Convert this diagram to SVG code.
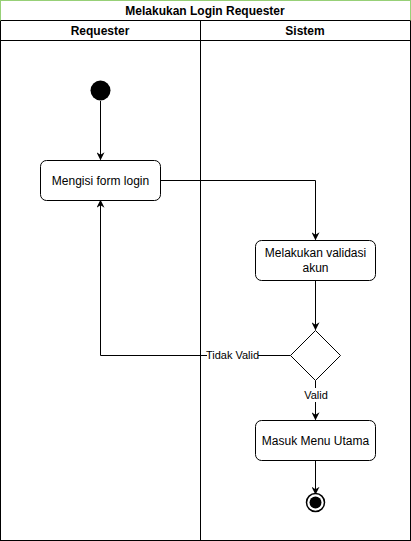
<svg xmlns="http://www.w3.org/2000/svg" width="411" height="541" viewBox="0 0 411 541">
<style>
.t{font-family:"Liberation Sans",Arial,sans-serif;font-size:12px;fill:#000;text-anchor:middle}
.s{font-size:11px}
.b{font-weight:bold}
.box{fill:#fff;stroke:#000;stroke-width:1}
.ln{fill:none;stroke:#000;stroke-width:1}
</style>
<defs>
<marker id="ar" viewBox="0 0 10 10" refX="9" refY="5" markerWidth="8" markerHeight="8" markerUnits="userSpaceOnUse" orient="auto">
<path d="M0,0 L10,5 L0,10 L3,5 Z" fill="#000"/>
</marker>
</defs>
<rect width="411" height="541" fill="#fff"/>
<g id="pool">
<rect x="0.5" y="0.5" width="410" height="540" fill="#fff" stroke="#000"/>
<rect x="0.5" y="0.5" width="410" height="20" fill="#fff" stroke="#97D077"/>
<line x1="0.5" y1="20.5" x2="410.5" y2="20.5" stroke="#000"/>
<line x1="0.5" y1="40.5" x2="410.5" y2="40.5" stroke="#000"/>
<line x1="200.5" y1="20.5" x2="200.5" y2="540.5" stroke="#000"/>
<text class="t b" x="205" y="15">Melakukan Login Requester</text>
<text class="t b" x="100" y="35">Requester</text>
<text class="t b" x="305" y="35">Sistem</text>
</g>
<g id="connectors">
<line class="ln" x1="100.5" y1="101" x2="100.5" y2="159.5" marker-end="url(#ar)"/>
<polyline class="ln" points="160.5,180.5 315.5,180.5 315.5,239.5" marker-end="url(#ar)"/>
<line class="ln" x1="315.5" y1="280.5" x2="315.5" y2="329.5" marker-end="url(#ar)"/>
<polyline class="ln" points="290.5,355.5 100.5,355.5 100.5,200.5" marker-end="url(#ar)"/>
<line class="ln" x1="315.5" y1="380.5" x2="315.5" y2="419.5" marker-end="url(#ar)"/>
<line class="ln" x1="315.5" y1="460.5" x2="315.5" y2="494" marker-end="url(#ar)"/>
<rect x="207" y="348" width="51" height="14" fill="#fff"/>
<text class="t s" x="232.5" y="359">Tidak Valid</text>
<rect x="303" y="388" width="26" height="14" fill="#fff"/>
<text class="t s" x="316" y="399">Valid</text>
</g>
<g id="start"><circle cx="100.5" cy="90.5" r="10" fill="#000"/></g>
<g id="mengisi">
<rect class="box" x="40.5" y="160.5" width="120" height="40" rx="6"/>
<text class="t" x="100.5" y="185">Mengisi form login</text>
</g>
<g id="validasi">
<rect class="box" x="255.5" y="240.5" width="120" height="40" rx="6"/>
<text class="t" x="315.5" y="257">Melakukan validasi</text>
<text class="t" x="315.5" y="272">akun</text>
</g>
<g id="decision">
<polygon class="box" points="315.5,330.5 340.5,355.5 315.5,380.5 290.5,355.5"/>
</g>
<g id="menu">
<rect class="box" x="255.5" y="420.5" width="120" height="40" rx="6"/>
<text class="t" x="315.5" y="445">Masuk Menu Utama</text>
</g>
<g id="end">
<circle cx="315.5" cy="502.5" r="9" fill="#fff" stroke="#000" stroke-width="1.5"/>
<circle cx="315.5" cy="502.5" r="6" fill="#000"/>
</g>
</svg>
